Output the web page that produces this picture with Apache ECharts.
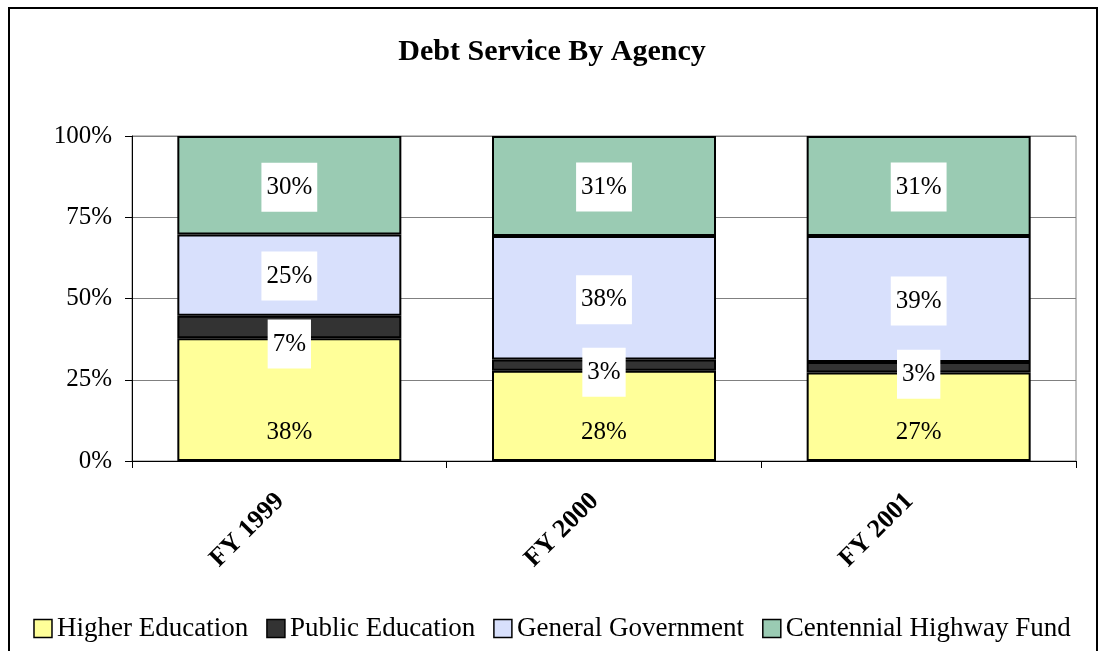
<!DOCTYPE html>
<html>
<head>
<meta charset="utf-8">
<script src="https://cdn.jsdelivr.net/npm/echarts@6/dist/echarts.min.js"></script>
<style>html,body{margin:0;padding:0;background:#fff}#c{width:1104px;height:651px}</style>
</head>
<body>
<div id="c"></div>
<script>
const categories = ['FY 1999', 'FY 2000', 'FY 2001'];
const higherEducation = [37.8, 27.8, 27.2];
const publicEducation = [6.9, 3.4, 3.3];
const generalGovernment = [25.0, 38.0, 38.7];
const centennialHighway = [30.3, 30.8, 30.8];
const seriesNames = ['Higher Education', 'Public Education', 'General Government', 'Centennial Highway Fund'];
const yTicks = [0, 25, 50, 75, 100];

const FONT = '"Liberation Serif", "Times New Roman", serif';
const colors = ['#FFFF99', '#333333', '#D8E0FC', '#9ACBB3'];
// label vertical nudges per series / category (layout only)
const labelNudge = [[33, 17, 16], [17, 7, 7], [1, 2, 2], [2, 1, 1]];

const chart = echarts.init(document.getElementById('c'));
const values = [higherEducation, publicEducation, generalGovernment, centennialHighway];

const series = values.map((arr, si) => ({
  name: seriesNames[si],
  type: 'bar',
  stack: 'total',
  barWidth: 224,
  data: arr.map((v, ci) => ({
    value: v,
    label: { offset: [0, labelNudge[si][ci]] }
  })),
  itemStyle: { color: colors[si], borderColor: '#000', borderWidth: 2 },
  label: {
    show: true,
    position: 'inside',
    formatter: p => Math.round(p.value) + '%',
    fontFamily: FONT,
    fontSize: 25,
    color: '#000',
    backgroundColor: si === 0 ? 'transparent' : '#fff',
    padding: si === 0 ? 0 : [12, 5, 12, 5]
  }
}));

chart.setOption({
  backgroundColor: '#fff',
  animation: false,
  title: {
    text: 'Debt Service By Agency',
    left: 'center',
    top: 32,
    textStyle: { fontFamily: FONT, fontSize: 30, fontWeight: 'bold', color: '#000' }
  },
  graphic: [{
    type: 'rect',
    shape: { x: 9, y: 8, width: 1088, height: 700 },
    style: { fill: null, stroke: '#000', lineWidth: 2 },
    z: 100
  }],
  legend: {
    bottom: 4,
    left: 'center',
    itemWidth: 18,
    itemHeight: 18,
    itemGap: 18,
    icon: 'rect',
    textStyle: { fontFamily: FONT, fontSize: 27, color: '#000' },
    itemStyle: { borderColor: '#000', borderWidth: 1.5 }
  },
  grid: {
    left: 132, right: 28, top: 136, bottom: 190,
    show: true, borderColor: '#808080', borderWidth: 1
  },
  xAxis: {
    type: 'category',
    data: categories,
    axisLine: { lineStyle: { color: '#000', width: 1 } },
    axisTick: { show: true, length: 7, lineStyle: { color: '#000' } },
    axisLabel: {
      rotate: 45,
      margin: 27,
      padding: [0, 13, 0, 0],
      fontFamily: FONT,
      fontSize: 26,
      fontWeight: 'bold',
      color: '#000'
    }
  },
  yAxis: {
    type: 'value',
    min: 0, max: 100, interval: 25,
    axisLine: { show: true, lineStyle: { color: '#000', width: 1 } },
    axisTick: { show: true, length: 7, lineStyle: { color: '#000' } },
    axisLabel: {
      formatter: v => yTicks.includes(v) ? v + '%' : '',
      margin: 20,
      fontFamily: FONT,
      fontSize: 25,
      color: '#000'
    },
    splitLine: { show: true, lineStyle: { color: '#808080', width: 1 } }
  },
  series
});
</script>
</body>
</html>
